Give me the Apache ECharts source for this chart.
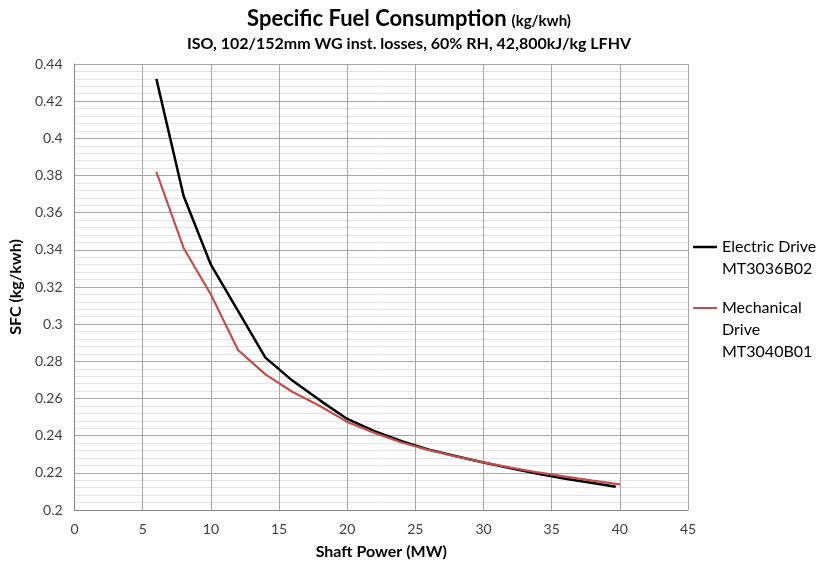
<!DOCTYPE html>
<html>
<head>
<meta charset="utf-8">
<script src="https://cdn.jsdelivr.net/npm/echarts@6/dist/echarts.min.js"></script>
<style>
  html, body { margin: 0; padding: 0; background: #fff; }
  #chart { width: 818px; height: 565px; }
</style>
</head>
<body>
<div id="chart"></div>
<script>
// Shaft power (MW) and SFC (kg/kwh)
const electricPower = [6, 8, 10, 12, 14, 16, 18, 20, 22, 24, 26, 28, 30, 32, 34, 36, 38, 39.7];
const electricSfc = [0.432, 0.369, 0.332, 0.307, 0.282, 0.2695, 0.259, 0.249, 0.2424, 0.2370, 0.2325, 0.2289, 0.2256, 0.2224, 0.2195, 0.2168, 0.2145, 0.2125];
const mechanicalPower = [6, 8, 10, 12, 14, 16, 18, 20, 22, 24, 26, 28, 30, 32, 34, 36, 38, 40];
const mechanicalSfc = [0.382, 0.341, 0.316, 0.286, 0.273, 0.2635, 0.256, 0.2474, 0.2415, 0.2363, 0.2322, 0.2288, 0.2256, 0.2228, 0.2202, 0.2180, 0.2158, 0.2138];

const seriesNames = ['Electric Drive\nMT3036B02', 'Mechanical\nDrive\nMT3040B01'];
const seriesColors = ['#000000', '#c0504d'];

const FONT = 'Lato';

function pairs(xs, ys) {
  return xs.map(function (x, i) { return [x, ys[i]]; });
}

// legend text is centred on the icon, so pad with empty lines above
// to keep the icon level with the first line of the name
function legendLabel(name) {
  const lines = name.split('\n');
  const pad = [];
  for (let i = 1; i < lines.length; i++) pad.push('{p| }');
  return pad.concat(lines.map(function (l) { return '{t|' + l + '}'; })).join('\n');
}

const chart = echarts.init(document.getElementById('chart'));

const legendRich = {
  p: { fontFamily: FONT, fontSize: 16, lineHeight: 22 },
  t: { fontFamily: FONT, fontSize: 16, lineHeight: 22, color: '#000' }
};

const option = {
  animation: false,
  backgroundColor: '#fff',
  title: {
    left: 'center',
    top: 3,
    itemGap: 6,
    text: '{a|Specific Fuel Consumption} {b|(kg/kwh)}',
    textStyle: {
      rich: {
        a: { fontFamily: FONT, fontSize: 22, fontWeight: 'bold', color: '#000' },
        b: { fontFamily: FONT, fontSize: 15, fontWeight: 'bold', color: '#000', padding: [4, 0, 0, 0] }
      }
    },
    subtext: 'ISO, 102/152mm WG inst. losses, 60% RH, 42,800kJ/kg LFHV',
    subtextStyle: { fontFamily: FONT, fontSize: 16, fontWeight: 'bold', color: '#000' }
  },
  legend: [
    {
      left: 693,
      top: 217,
      padding: 0,
      icon: 'rect',
      itemWidth: 24,
      itemHeight: 2.5,
      data: [seriesNames[0]],
      formatter: legendLabel,
      textStyle: { rich: legendRich }
    },
    {
      left: 693,
      top: 256,
      padding: 0,
      icon: 'rect',
      itemWidth: 24,
      itemHeight: 2,
      data: [seriesNames[1]],
      formatter: legendLabel,
      textStyle: { rich: legendRich }
    }
  ],
  grid: {
    left: 72,
    right: 130,
    top: 64,
    bottom: 54,
    containLabel: false
  },
  xAxis: {
    type: 'value',
    min: 0,
    max: 45,
    interval: 5,
    name: 'Shaft Power (MW)',
    nameLocation: 'middle',
    nameGap: 34,
    nameTextStyle: { fontFamily: FONT, fontSize: 16, fontWeight: 'bold', color: '#000' },
    axisLine: { show: true, onZero: false, lineStyle: { color: '#868686', width: 1 } },
    axisTick: { show: false },
    axisLabel: { fontFamily: FONT, fontSize: 14, color: '#404040', margin: 12 },
    splitLine: { show: true, lineStyle: { color: '#a6a6a6', width: 1 } }
  },
  yAxis: {
    type: 'value',
    min: 0.2,
    max: 0.44,
    interval: 0.02,
    name: 'SFC (kg/kwh)',
    nameLocation: 'middle',
    nameGap: 44,
    nameTextStyle: { fontFamily: FONT, fontSize: 16, fontWeight: 'bold', color: '#000' },
    axisLine: { show: true, lineStyle: { color: '#868686', width: 1 } },
    axisTick: { show: false },
    axisLabel: { fontFamily: FONT, fontSize: 14, color: '#404040', margin: 12 },
    splitLine: { show: true, lineStyle: { color: '#a6a6a6', width: 1 } },
    minorTick: { show: false, splitNumber: 5 },
    minorSplitLine: { show: true, lineStyle: { color: '#e3e3e3', width: 1 } }
  },
  series: [
    {
      name: seriesNames[0],
      type: 'line',
      symbol: 'none',
      data: pairs(electricPower, electricSfc),
      lineStyle: { color: seriesColors[0], width: 2.5 },
      itemStyle: { color: seriesColors[0] },
      z: 3
    },
    {
      name: seriesNames[1],
      type: 'line',
      symbol: 'none',
      data: pairs(mechanicalPower, mechanicalSfc),
      lineStyle: { color: seriesColors[1], width: 2.2 },
      itemStyle: { color: seriesColors[1] },
      z: 4
    }
  ]
};

chart.setOption(option);
</script>
</body>
</html>
